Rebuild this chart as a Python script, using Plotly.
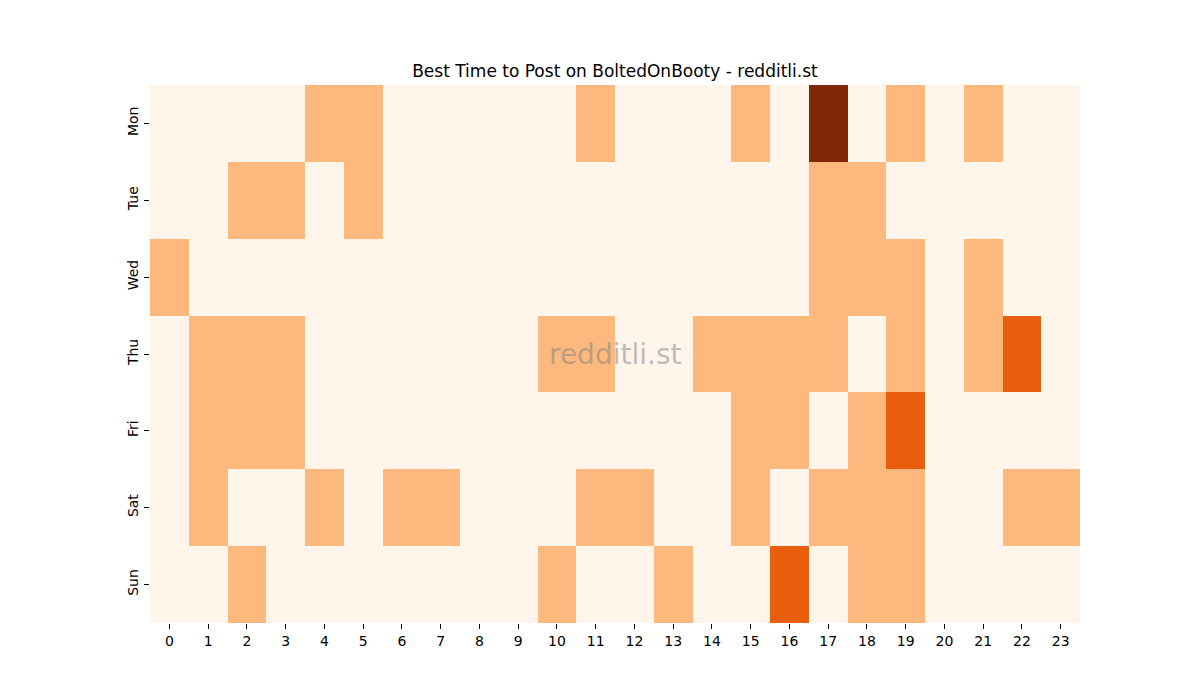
import plotly.graph_objects as go

days = ["Mon", "Tue", "Wed", "Thu", "Fri", "Sat", "Sun"]
hours = list(range(24))

# posts per hour, one row per weekday
mon = [0, 0, 0, 0, 1, 1, 0, 0, 0, 0, 0, 1, 0, 0, 0, 1, 0, 3, 0, 1, 0, 1, 0, 0]
tue = [0, 0, 1, 1, 0, 1, 0, 0, 0, 0, 0, 0, 0, 0, 0, 0, 0, 1, 1, 0, 0, 0, 0, 0]
wed = [1, 0, 0, 0, 0, 0, 0, 0, 0, 0, 0, 0, 0, 0, 0, 0, 0, 1, 1, 1, 0, 1, 0, 0]
thu = [0, 1, 1, 1, 0, 0, 0, 0, 0, 0, 1, 1, 0, 0, 1, 1, 1, 1, 0, 1, 0, 1, 2, 0]
fri = [0, 1, 1, 1, 0, 0, 0, 0, 0, 0, 0, 0, 0, 0, 0, 1, 1, 0, 1, 2, 0, 0, 0, 0]
sat = [0, 1, 0, 0, 1, 0, 1, 1, 0, 0, 0, 1, 1, 0, 0, 1, 0, 1, 1, 1, 0, 0, 1, 1]
sun = [0, 0, 1, 0, 0, 0, 0, 0, 0, 0, 1, 0, 0, 1, 0, 0, 2, 0, 1, 1, 0, 0, 0, 0]

oranges = [
    [0.0, "rgb(255,245,235)"], [0.125, "rgb(254,230,206)"],
    [0.25, "rgb(253,208,162)"], [0.375, "rgb(253,174,107)"],
    [0.5, "rgb(253,141,60)"], [0.625, "rgb(241,105,19)"],
    [0.75, "rgb(217,72,1)"], [0.875, "rgb(166,54,3)"],
    [1.0, "rgb(127,39,4)"],
]

fig = go.Figure(go.Heatmap(
    z=[mon, tue, wed, thu, fri, sat, sun],
    x=hours,
    y=days,
    colorscale=oranges,
    zmin=0,
    zmax=3,
    showscale=False,
))

fig.update_layout(
    width=1200, height=700,
    margin=dict(l=142, r=128, t=77, b=85),
    paper_bgcolor="white",
    plot_bgcolor="white",
    font=dict(family="DejaVu Sans", size=14, color="black"),
    title=dict(
        text="Best Time to Post on BoltedOnBooty - redditli.st",
        x=0.5058, xanchor="center", y=0.91, yanchor="middle",
        font=dict(size=17),
    ),
    annotations=[dict(
        text="redditli.st", x=0.5, y=0.5, xref="paper", yref="paper",
        showarrow=False, font=dict(size=28, color="rgba(128,128,128,0.5)"),
    )],
)
fig.update_xaxes(
    tickmode="array", tickvals=hours, ticktext=[str(h) for h in hours],
    ticks="outside", ticklen=5, tickcolor="black",
    showgrid=False, zeroline=False, showline=False,
    range=[-0.5, 23.5],
)
fig.update_yaxes(
    autorange="reversed", tickangle=-90,
    ticks="outside", ticklen=5, tickcolor="black",
    showgrid=False, zeroline=False, showline=False,
)

fig.write_html("out.html")
